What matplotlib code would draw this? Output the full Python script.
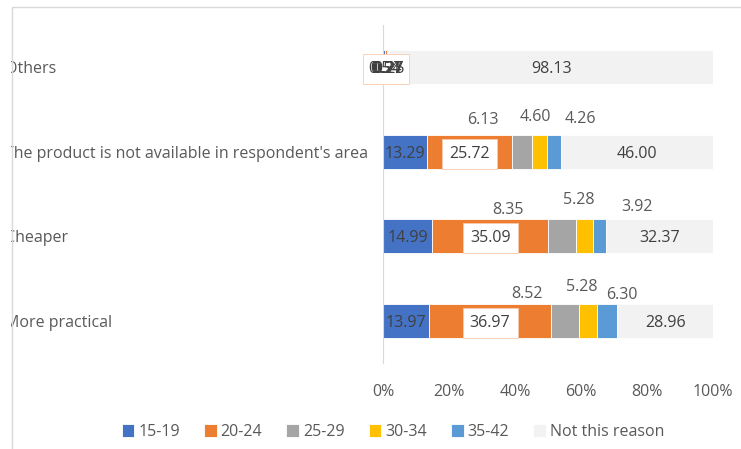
import matplotlib.pyplot as plt
import matplotlib.patches as mpatches
import matplotlib.transforms as mtransforms
import numpy as np

plt.rcParams['font.family'] = ['Open Sans', 'DejaVu Sans']

reasons = ['More practical', 'Cheaper',
           "The product is not available in respondent's area", 'Others']
groups = ['15-19', '20-24', '25-29', '30-34', '35-42', 'Not this reason']
colors = ['#4472c4', '#ed7d31', '#a5a5a5', '#ffc000', '#5b9bd5', '#f2f2f2']

age_15_19 = [13.97, 14.99, 13.29, 0.54]
age_20_24 = [36.97, 35.09, 25.72, 0.54]
age_25_29 = [8.52, 8.35, 6.13, 0.27]
age_30_34 = [5.28, 5.28, 4.60, 0.27]
age_35_42 = [6.30, 3.92, 4.26, 0.25]
not_reason = [28.96, 32.37, 46.00, 98.13]

series = [age_15_19, age_20_24, age_25_29, age_30_34, age_35_42, not_reason]

# hand-moved labels for 25-29, 30-34, 35-42 (pixel offsets from segment centre)
moved = {
    (0, 2): (-38, 29), (0, 3): (-6, 36), (0, 4): (15, 28),
    (1, 2): (-54, 28), (1, 3): (-6, 38), (1, 4): (37, 31),
    (2, 2): (-39, 34), (2, 3): (-4, 37), (2, 4): (26, 35),
}

FS = 11.5
fig = plt.figure(figsize=(7.41, 4.49), dpi=100)
ax = fig.add_axes([383 / 741, 1 - 363 / 449, 330 / 741, 338 / 449])

y = np.arange(len(reasons))
left = np.zeros(len(reasons))
for s, (vals, col, name) in enumerate(zip(series, colors, groups)):
    vals = np.array(vals)
    ax.barh(y, vals, left=left, height=0.4, color=col, label=name,
            edgecolor='white', linewidth=0.6)
    for i, v in enumerate(vals):
        cx = left[i] + v / 2
        txt = f'{v:.2f}'
        if (i, s) in moved:
            dx, dy = moved[(i, s)]
            ax.annotate(txt, (cx, y[i]), xytext=(dx, dy),
                        textcoords='offset pixels', ha='center',
                        va='center_baseline', fontsize=FS, color='#595959')
        elif s == 1:
            ax.text(cx, y[i], txt, ha='center', va='center_baseline',
                    fontsize=FS, color='#404040', zorder=3,
                    bbox=dict(boxstyle='square,pad=0.45', fc='white',
                              ec='#f8cbad', lw=0.6))
        else:
            ax.text(cx, y[i], txt, ha='center', va='center_baseline',
                    fontsize=FS, color='#404040', zorder=4)
    left += vals

ax.set_xlim(0, 100)
ax.set_ylim(-0.5, len(reasons) - 0.5)
ax.set_yticks(y)
ax.set_yticklabels([])
ax.set_xticks(np.arange(0, 101, 20))
ax.set_xticklabels([f'{t}%' for t in range(0, 101, 20)], fontsize=FS,
                   color='#595959')
ax.tick_params(axis='x', length=0, pad=15)
ax.tick_params(axis='y', length=0)
for side in ['top', 'right', 'bottom']:
    ax.spines[side].set_visible(False)
ax.spines['left'].set_color('#d9d9d9')

# category names, left aligned at the chart edge
trans = mtransforms.blended_transform_factory(fig.transFigure, ax.transData)
for yi, name in zip(y, reasons):
    fig.text(5 / 741, yi, name, transform=trans, ha='left',
             va='center_baseline', fontsize=FS, color='#595959')

fig.legend(loc='center', bbox_to_anchor=(393 / 741, 1 - 432 / 449), ncol=6,
           frameon=False, fontsize=FS, handlelength=0.8, handleheight=0.8,
           handletextpad=0.25, columnspacing=1.5, labelcolor='#595959')

# chart area border, left part of the names falls outside it
fig.add_artist(mpatches.Rectangle((0, 0), 11 / 741, 1, transform=fig.transFigure,
                                  fc='white', ec='none', zorder=10))
fig.add_artist(mpatches.Rectangle((12 / 741, -0.1), 1.0, 1.1 - 7 / 449,
                                  transform=fig.transFigure, fill=False,
                                  ec='#d9d9d9', lw=1, zorder=11))

fig.savefig('out.png', dpi=100)
